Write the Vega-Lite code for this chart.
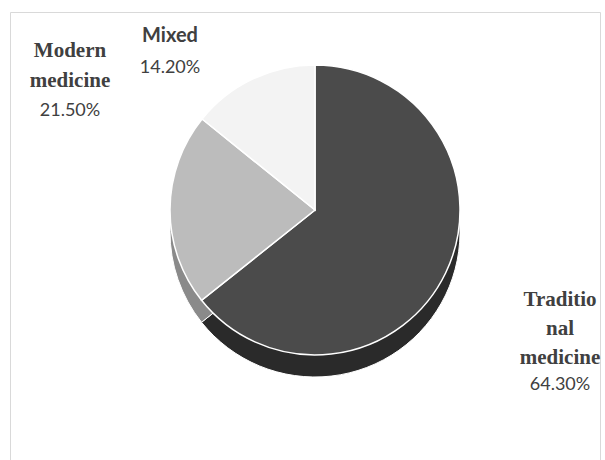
{
  "$schema": "https://vega.github.io/schema/vega-lite/v6.json",
  "width": 590,
  "height": 448,
  "autosize": {"type": "none"},
  "padding": {"left": 10, "top": 12, "right": 5, "bottom": 0},
  "background": "white",
  "view": {"stroke": "#d9d9d9", "strokeWidth": 1},
  "config": {"view": {"stroke": "#d9d9d9", "strokeWidth": 1}},
  "data": {
    "values": [
      {"name": "Traditio|nal|medicine", "category": "Traditional medicine", "value": 64.3, "pct": "64.30%", "rank": 1},
      {"name": "Modern|medicine", "category": "Modern medicine", "value": 21.5, "pct": "21.50%", "rank": 2},
      {"name": "Mixed", "category": "Mixed", "value": 14.2, "pct": "14.20%", "rank": 3}
    ]
  },
  "encoding": {
    "theta": {"field": "value", "type": "quantitative", "stack": true},
    "order": {"field": "rank", "type": "quantitative"}
  },
  "resolve": {"scale": {"color": "independent"}},
  "layer": [
    {
      "mark": {"type": "arc", "radius": 145, "xOffset": 10, "yOffset": -4, "stroke": "#ffffff", "strokeWidth": 1},
      "encoding": {
        "color": {"field": "category", "type": "nominal", "legend": null,
          "scale": {"domain": ["Traditional medicine", "Modern medicine", "Mixed"], "range": ["#2a2a2a", "#8a8a8a", "#cfcfcf"]}}
      }
    },
    {
      "mark": {"type": "arc", "radius": 145, "xOffset": 10, "yOffset": -26, "stroke": "#ffffff", "strokeWidth": 1.5},
      "encoding": {
        "color": {"field": "category", "type": "nominal", "legend": null,
          "scale": {"domain": ["Traditional medicine", "Modern medicine", "Mixed"], "range": ["#4b4b4b", "#bcbcbc", "#f3f3f3"]}}
      }
    },
    {
      "mark": {"type": "text", "radius": 272, "xOffset": 10, "yOffset": -21, "dy": -33, "font": "Liberation Serif", "fontWeight": "bold", "fontSize": 21, "lineBreak": "|", "lineHeight": 29, "baseline": "middle", "align": "center", "color": "#404040"},
      "encoding": {"text": {"condition": {"test": "datum.rank === 1", "field": "name"}, "value": ""}}
    },
    {
      "mark": {"type": "text", "radius": 272, "xOffset": 10, "yOffset": -21, "dy": 52, "font": "Lato", "fontSize": 18, "baseline": "middle", "align": "center", "color": "#404040"},
      "encoding": {"text": {"condition": {"test": "datum.rank === 1", "field": "pct"}, "value": ""}}
    },
    {
      "mark": {"type": "text", "radius": 245, "xOffset": 10, "yOffset": -21, "dy": -163, "font": "Liberation Serif", "fontWeight": "bold", "fontSize": 21, "lineBreak": "|", "lineHeight": 30, "baseline": "middle", "align": "center", "color": "#404040"},
      "encoding": {"text": {"condition": {"test": "datum.rank === 2", "field": "name"}, "value": ""}}
    },
    {
      "mark": {"type": "text", "radius": 245, "xOffset": 10, "yOffset": -21, "dy": -103, "font": "Lato", "fontSize": 18, "baseline": "middle", "align": "center", "color": "#404040"},
      "encoding": {"text": {"condition": {"test": "datum.rank === 2", "field": "pct"}, "value": ""}}
    },
    {
      "mark": {"type": "text", "radius": 190, "xOffset": 10, "yOffset": -21, "dx": -63, "dy": -8, "font": "Lato", "fontWeight": "bold", "fontSize": 20, "baseline": "middle", "align": "center", "color": "#404040"},
      "encoding": {"text": {"condition": {"test": "datum.rank === 3", "field": "name"}, "value": ""}}
    },
    {
      "mark": {"type": "text", "radius": 190, "xOffset": 10, "yOffset": -21, "dx": -63, "dy": 24, "font": "Lato", "fontSize": 18, "baseline": "middle", "align": "center", "color": "#404040"},
      "encoding": {"text": {"condition": {"test": "datum.rank === 3", "field": "pct"}, "value": ""}}
    }
  ]
}
